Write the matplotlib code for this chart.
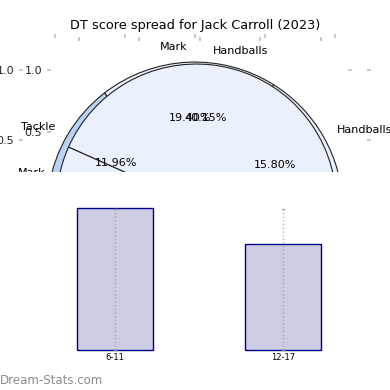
import matplotlib.pyplot as plt
import numpy as np

# two overlapping score-source pies
pie1_labels = ['Handballs', 'Mark', 'Tackle', 'Kicks']
pie1_values = [15.80, 19.40, 11.96, 52.84]
pie2_labels = ['Handballs', 'Mark', 'Tackle', 'Kicks']
pie2_values = [40.15, 6.90, 10.65, 42.30]

# bar chart of DT score by time band
bands = ['6-11', '12-17']
band_scores = [71, 53]
band_low = [0, 0]
band_high = [70.5, 70.5]

W = 390.0


def box(x0, y0, x1, y1):  # pixel box -> figure fraction
    return [x0 / W, 1 - y1 / W, (x1 - x0) / W, (y1 - y0) / W]


fig = plt.figure(figsize=(3.9, 3.9), dpi=100)

tick_kw = dict(color='#cccccc', length=3, width=1.5, labelsize=8, labelcolor='#222222')

# back axes, only the ticks show
ax2 = fig.add_axes(box(51, 41, 348, 347))
ax2.set_facecolor('none')
ax2.set_frame_on(False)
ax2.set_xlim(-1.231, 1.223)
ax2.set_ylim(-1.234, 1.234)
ax2.set_xticks([-1, -0.5, 0, 0.5, 1])
ax2.set_yticks([0.5, 1.0])
ax2.tick_params(axis='x', top=True, bottom=False, labeltop=False, labelbottom=False, **tick_kw)
ax2.tick_params(axis='y', left=True, right=True, labelleft=True, labelright=False, **tick_kw)

ax1 = fig.add_axes(box(23, 38, 367, 382))
ax1.set_facecolor('none')
light = '#eaf0fc'
blue = '#b8d3f6'
wp = dict(edgecolor='#222222', linewidth=0.8)
ax1.pie(pie1_values, labels=pie1_labels, autopct='%.2f%%', startangle=1, radius=1.057,
        colors=[light, light, blue, light], wedgeprops=wp, pctdistance=0.62,
        textprops=dict(fontsize=8), frame=True)
ax1.pie(pie2_values, labels=pie2_labels, autopct='%.2f%%', startangle=11.5, radius=1.0,
        center=(0.01, 0.043), colors=[light] * 4, wedgeprops=wp, pctdistance=0.62,
        textprops=dict(fontsize=8), frame=True)
ax1.set_frame_on(False)
ax1.set_xlim(-1.229, 1.229)
ax1.set_ylim(-1.229, 1.229)
ax1.set_xticks([-1, -0.5, 0, 0.5, 1])
ax1.set_yticks([0, 0.5, 1.0])
ax1.set_yticklabels(['0.0', '0.5', '1.0'])
ax1.tick_params(axis='x', top=True, bottom=False, labeltop=False, labelbottom=False, **tick_kw)
ax1.tick_params(axis='y', left=True, right=True, labelleft=True, labelright=False, **tick_kw)

fig.text(0.5, 1 - 25 / W, 'DT score spread for Jack Carroll (2023)', ha='center', va='center', fontsize=9.3)

# bar axes on top, white background hides the lower half of the pies
axb = fig.add_axes(box(0, 172, 390, 390))
axb.set_facecolor('white')
x = np.arange(len(bands))
axb.bar(x, band_scores, width=0.45, color='#cdcde4', edgecolor='#00008b', linewidth=1)
mid = [(lo + hi) / 2 for lo, hi in zip(band_low, band_high)]
err = [(hi - lo) / 2 for lo, hi in zip(band_low, band_high)]
eb = axb.errorbar(x, mid, yerr=err, fmt='none', ecolor='#999999', elinewidth=1, capsize=1.5, alpha=0.7)
eb[2][0].set_linestyle(':')
axb.set_xlim(-0.685, 1.637)
axb.set_ylim(-20, 89)
axb.set_xticks(x)
axb.set_xticklabels(bands, fontsize=6)
axb.set_yticks([])
axb.tick_params(axis='x', length=0, pad=-26.5)
for s in axb.spines.values():
    s.set_visible(False)

fig.text(0.0, 1 - 380 / W, 'Dream-Stats.com', ha='left', va='center', fontsize=8.5, color='#8c8c8c')

fig.savefig('out.png', dpi=100)
